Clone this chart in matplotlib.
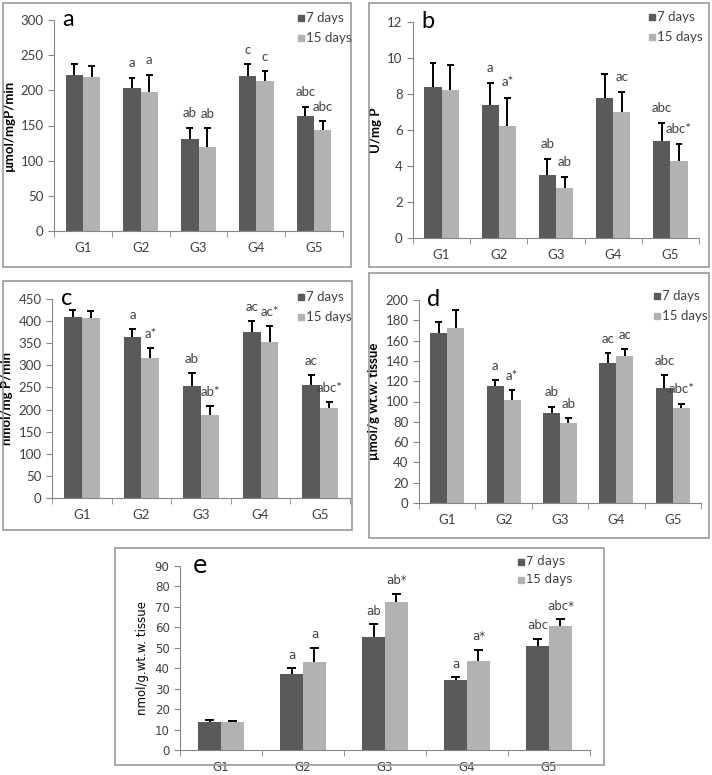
import numpy as np
import matplotlib.pyplot as plt
from matplotlib.patches import Rectangle

W, H = 712, 775

groups = ["G1", "G2", "G3", "G4", "G5"]

# panel a
a_7 = [222, 203, 131, 221, 163]
a_7_err = [16, 15, 16, 16, 14]
a_15 = [219, 197, 120, 213, 143]
a_15_err = [15, 25, 26, 14, 13]
a_lab7 = ["", "a", "ab", "c", "abc"]
a_lab15 = ["", "a", "ab", "c", "abc"]

# panel b
b_7 = [8.4, 7.4, 3.5, 7.8, 5.4]
b_7_err = [1.3, 1.2, 0.9, 1.3, 1.0]
b_15 = [8.2, 6.2, 2.8, 7.0, 4.3]
b_15_err = [1.4, 1.6, 0.6, 1.1, 0.9]
b_lab7 = ["", "a", "ab", "", "abc"]
b_lab15 = ["", "a*", "ab", "ac", "abc*"]

# panel c
c_7 = [410, 363, 253, 376, 255]
c_7_err = [14, 20, 30, 25, 24]
c_15 = [406, 317, 188, 352, 203]
c_15_err = [16, 23, 20, 37, 15]
c_lab7 = ["", "a", "ab", "ac", "ac"]
c_lab15 = ["", "a*", "ab*", "ac*", "abc*"]

# panel d
d_7 = [167, 115, 89, 138, 113]
d_7_err = [11, 6, 6, 10, 13]
d_15 = [172, 101, 79, 145, 94]
d_15_err = [18, 10, 5, 7, 4]
d_lab7 = ["", "a", "ab", "ac", "abc"]
d_lab15 = ["", "a*", "ab", "ac", "abc*"]

# panel e
e_7 = [13.5, 37, 55.5, 34, 51]
e_7_err = [1.0, 3, 6, 1.5, 3.4]
e_15 = [13.5, 43, 72.5, 43.6, 60.7]
e_15_err = [0.5, 7, 4, 5.5, 3.3]
e_lab7 = ["", "a", "ab", "a", "abc"]
e_lab15 = ["", "a", "ab*", "a*", "abc*"]

DARK = "#5a5a5a"
LIGHT = "#b2b2b2"
AX = "#868686"
TXT = "#404040"

fig = plt.figure(figsize=(W / 100, H / 100), dpi=100)

# panel frames (pixel boxes)
for x0, y0, x1, y1 in [(3, 3, 351, 267), (369, 3, 709, 267), (3, 281, 352, 530),
                       (369, 273, 709, 538), (115, 548, 604, 765)]:
    fig.patches.append(Rectangle((x0 / W, 1 - y1 / H), (x1 - x0) / W, (y1 - y0) / H,
                                 transform=fig.transFigure, fill=False,
                                 edgecolor="#9a9a9a", lw=1.2))


def panel(box, v7, e7, v15, e15, l7, l15, ymax, step, ylabel, letter,
          font="Lato", fs=9.5, bw=0.3, leg=None, yfont=None, yweight="bold"):
    left, right, top, bottom = box
    ax = fig.add_axes([left / W, 1 - bottom / H, (right - left) / W, (bottom - top) / H])
    x = np.arange(len(groups))
    ax.bar(x - bw / 2, v7, bw, color=DARK, zorder=2)
    ax.bar(x + bw / 2, v15, bw, color=LIGHT, zorder=2)
    off = ymax * 0.07
    for xs, v, e, labs in [(x - bw / 2, v7, e7, l7), (x + bw / 2, v15, e15, l15)]:
        tops = np.array(v) + np.array(e)
        ax.vlines(xs, v, tops, color="black", lw=1.4, zorder=3)
        ax.hlines(tops, xs - bw * 0.2, xs + bw * 0.2, color="black", lw=1.4, zorder=3)
        for xi, t, s in zip(xs, tops, labs):
            if s:
                ax.text(xi, t + off, s, ha="center", va="center", fontsize=fs,
                        color=TXT, family=font)
    ax.set_xlim(-0.5, len(groups) - 0.5)
    ax.set_ylim(0, ymax)
    ax.set_yticks(np.arange(0, ymax + step / 2, step))
    ax.set_xticks(x)
    ax.set_xticklabels(groups)
    ax.set_xticks(np.arange(-0.5, len(groups)), minor=True)
    ax.tick_params(axis="x", which="major", length=0, pad=8)
    ax.tick_params(axis="x", which="minor", length=4, color=AX, direction="out")
    ax.tick_params(axis="y", length=4, color=AX, direction="out")
    for lab in ax.get_xticklabels() + ax.get_yticklabels():
        lab.set_fontsize(fs)
        lab.set_color(TXT)
        lab.set_family(font)
    for s in ["top", "right"]:
        ax.spines[s].set_visible(False)
    for s in ["left", "bottom"]:
        ax.spines[s].set_color(AX)
    ax.set_ylabel(ylabel, fontsize=fs, fontweight=yweight,
                  family=yfont or font, labelpad=4)
    ax.set_facecolor("none")
    ax.text(0.03, 1.0, letter, transform=ax.transAxes, fontsize=17, family=font,
            ha="left", va="center", color="black")
    # legend placed in pixel coords
    lx, ly1, ly2 = leg
    for yy, col, t in [(ly1, DARK, "7 days"), (ly2, LIGHT, "15 days")]:
        fig.patches.append(Rectangle(((lx) / W, 1 - (yy + 3) / H), 6 / W, 6 / H,
                                     transform=fig.transFigure, color=col))
        fig.text((lx + 8) / W, 1 - yy / H, t, fontsize=fs, family=font, color=TXT,
                 ha="left", va="center")
    return ax


panel((54, 343, 20, 231), a_7, a_7_err, a_15, a_15_err, a_lab7, a_lab15,
      300, 50, "µmol/mgP/min", "a", leg=(298, 18, 38))
panel((413, 699, 22, 238), b_7, b_7_err, b_15, b_15_err, b_lab7, b_lab15,
      12, 2, "U/mg P", "b", leg=(649, 17, 37))
panel((52, 350, 299, 498), c_7, c_7_err, c_15, c_15_err, c_lab7, c_lab15,
      450, 50, "nmol/mg P/min", "c", leg=(298, 297, 317))
panel((419, 701, 300, 503), d_7, d_7_err, d_15, d_15_err, d_lab7, d_lab15,
      200, 20, "µmol/g wt.w. tissue", "d", leg=(654, 296, 316))
panel((180, 590, 566, 750), e_7, e_7_err, e_15, e_15_err, e_lab7, e_lab15,
      90, 10, "nmol/g.wt.w. tissue", "e", font="DejaVu Sans", fs=8.5, bw=0.28,
      leg=(518, 562, 580), yfont=["Liberation Sans Narrow", "DejaVu Sans"],
      yweight="normal")

fig.savefig("out.png", dpi=100)
